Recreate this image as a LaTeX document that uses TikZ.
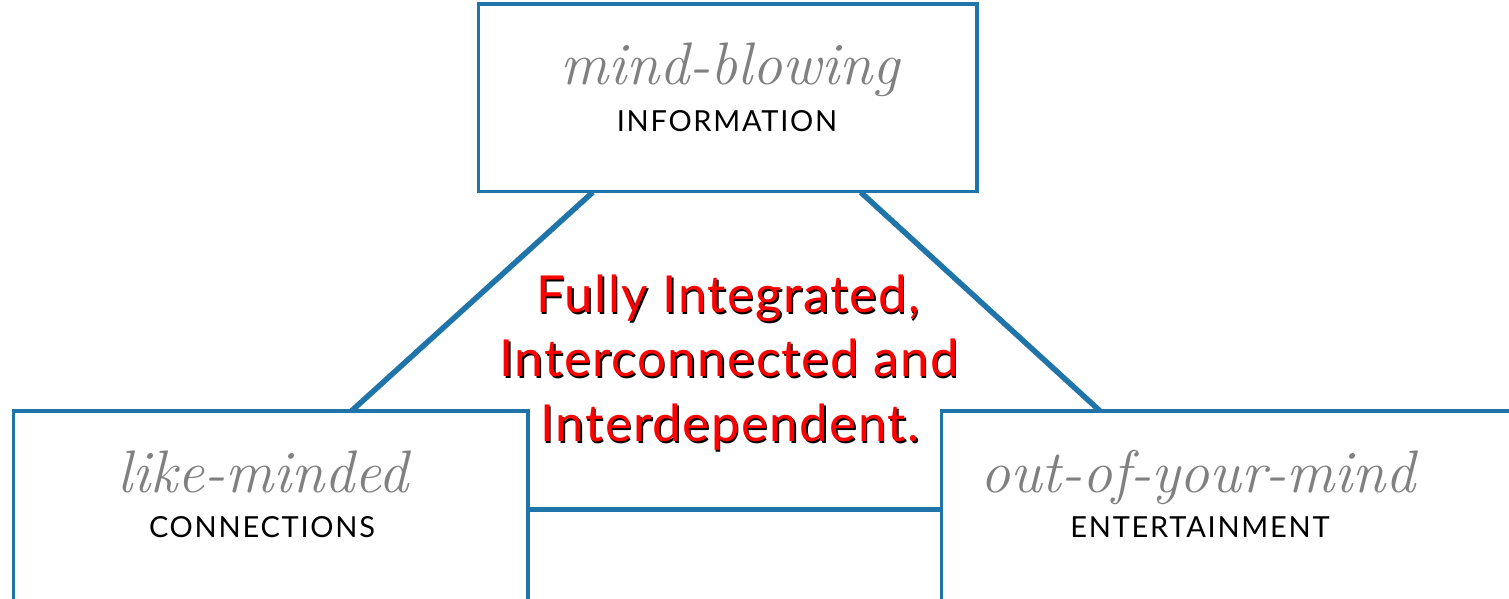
\documentclass[tikz,border=0pt]{standalone}
\usepackage{fontspec}
\setsansfont{Lato}
\usepackage{tikz}
\usetikzlibrary{calc,positioning}

\definecolor{boxblue}{RGB}{31,117,170}
\definecolor{wordgray}{RGB}{128,128,128}

\tikzset{
	box/.style={draw=boxblue,line width=2.5pt,fill=white,inner sep=0pt},
	link/.style={draw=boxblue,line width=5.5pt},
	fancy/.style={anchor=base,inner sep=0pt,text=wordgray,font=\fontsize{60}{70}\selectfont\itshape\addfontfeatures{LetterSpace=-1.5}},
	plain/.style={anchor=base,inner sep=0pt,font=\sffamily\fontsize{29}{34}\selectfont\addfontfeatures{LetterSpace=6}},
	claim/.style={anchor=base,inner sep=0pt,font=\sffamily\fontsize{51}{60}\selectfont\addfontfeatures{LetterSpace=3}}
}
\newcommand{\redshadow}[1]{\makebox[0pt][l]{\hspace{1.6pt}\raisebox{-1.6pt}{\color{black}#1}}\textcolor{red}{#1}}

\begin{document}
\begin{tikzpicture}[x=1pt,y=1pt]
		\useasboundingbox (0,0) rectangle (1509,599);
		\clip (0,0) rectangle (1509,599);
		
		%boxes
		\node[box,minimum width=497,minimum height=186] (info) at (727.5,501) {};
		\node[box,minimum width=513,minimum height=202] (conn) at (270.5,86) {};
		\node[box,minimum width=588,minimum height=202] (ent) at (1236,86) {};
		
		%links
		\draw[link] ($(info.south west)+(115,0)$) -- ($(conn.north west)+(339,0)$);
		\draw[link] ($(info.south west)+(383,0)$) -- ($(ent.north west)+(159,0)$);
		\draw[link] ($(conn.north east)+(0,-99)$) -- ($(ent.north west)+(0,-99)$);
		
		%redraw boxes over the link ends
		\draw[draw=boxblue,line width=2.5pt] (info.south west) rectangle (info.north east);
		\draw[draw=boxblue,line width=2.5pt] (conn.south west) rectangle (conn.north east);
		\draw[draw=boxblue,line width=2.5pt] (ent.south west) rectangle (ent.north east);
		
		%texts
		\node[fancy] (infoa) at (730,514) {mind-blowing};
		\node[plain] (infob) at (727,467) {INFORMATION};
		\node[fancy] (conna) at (263,106) {like-minded};
		\node[plain] (connb) at (262,61) {CONNECTIONS};
		\node[fancy] (enta) at (1198,106) {out-of-your-mind};
		\node[plain] (entb) at (1200,61) {ENTERTAINMENT};
		
		%middle
		\node[claim] (claima) at (728,286) {\redshadow{Fully Integrated,}};
		\node[claim] (claimb) at (729,222) {\redshadow{Interconnected and}};
		\node[claim] (claimc) at (730,157) {\redshadow{Interdependent.}};
		
\end{tikzpicture}
\end{document}
